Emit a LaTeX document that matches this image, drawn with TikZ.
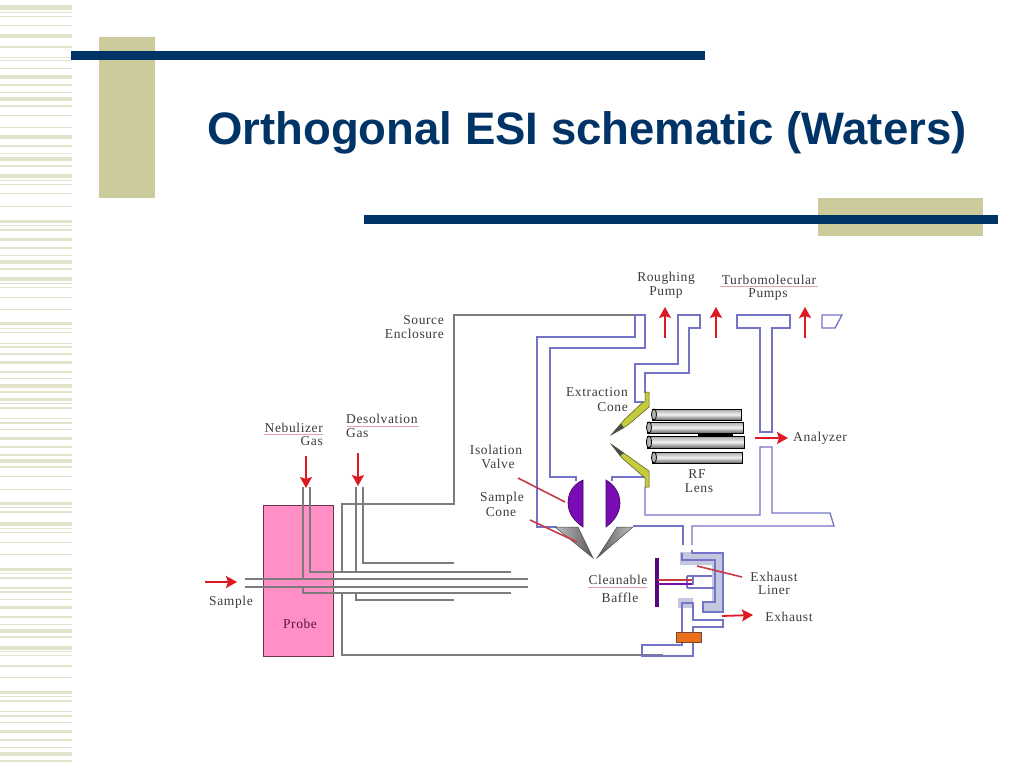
\documentclass[tikz,border=0pt]{standalone}
\usepackage{fontspec}
\setmainfont{Liberation Serif}
\newfontfamily\titlefont{Liberation Sans}
\newfontfamily\labelfont[LetterSpace=4.5]{Liberation Serif}
\usetikzlibrary{arrows.meta}
\definecolor{khaki}{HTML}{CBCB9B}
\definecolor{stripe}{HTML}{E3E3CB}
\definecolor{navy}{HTML}{003366}
\definecolor{pipeblue}{HTML}{7474C8}
\definecolor{pipegray}{HTML}{7C7C7C}
\definecolor{arrowred}{HTML}{DD1A22}
\definecolor{leader}{HTML}{C83A4A}
\definecolor{liner}{HTML}{C4C8DE}
\definecolor{probepink}{HTML}{FF8FC4}
\definecolor{valvepurple}{HTML}{7A0CB4}
\definecolor{coneyellow}{HTML}{C4CC3C}
\definecolor{squiggle}{HTML}{E8A0A8}
\definecolor{labelgray}{HTML}{3C3C3C}
\tikzset{
  blue pipe/.style={draw=pipeblue,line width=1.3pt,line join=miter},
  gray pipe/.style={draw=pipegray,line width=1.7pt,line join=miter},
  flow/.style={draw=arrowred,line width=1.8pt,-{Stealth[length=11pt,width=12pt,inset=2pt]}},
  leaderline/.style={draw=leader,line width=1.6pt},
  spell/.style={draw=squiggle,line width=0.9pt},
  lab/.style={font=\labelfont\fontsize{13.5}{13.5}\selectfont,text=labelgray,inner sep=0pt,anchor=center},
  rodbody/.style={draw=black,line width=1pt,top color=black!35,bottom color=black!60,middle color=black!5},
}
\begin{document}
\begin{tikzpicture}[x=1pt,y=-1pt]
\useasboundingbox (0,0) rectangle (1024,768);
\fill[white] (0,0) rectangle (1024,768);
% left stripes
\foreach \a/\h in {5/5,12/1,16/1,25/1,34/4,46/2,57/1,60/1,68/1,75/3.5,84/2,92/1,97/4,105/2,115/1,127/1,135/3.5,145/2,153/1,157/4,165/2,
  174/4,180/1,184/1,193/1,206/1,220/3,225/1,229/2,238/3,247/2,255/1,260/4,268/2,277/3.5,283/1,287/1,297/1,309/1,322/3,328/1,332/1,343/1,346/2,353/2,361/3,
  371/1.5,378/1,384/4,391/2,398/3,403/1,407/2,418/1,422/2,429/1,437/3,446/2,454/1.5,459/4,466/2,476/1,489/1,502/3,507/1,511/2,522/4,528/1,532/1,542/1,554/1,
  568/3,573/1,577/2,587/1.5,591/1.5,599/1,606/3,616/2,624/1,629/3.5,636/2,646/3.5,651/1,655/1,665/1.5,677/1,691/3,696/1,700/2,711/1,715/2,722/1,730/3,739/1.5,747/1,752/3.5,760/1.5}{
  \fill[stripe] (0,\a) rectangle (72,\a+\h);
}
% decoration
\fill[khaki] (99,37) rectangle (155,198);
\fill[navy] (71,51) rectangle (705,60);
\fill[khaki] (818,198) rectangle (983,236);
\fill[navy] (364,215) rectangle (998,224);
\node[font=\titlefont\bfseries\fontsize{45.5}{45.5}\selectfont,text=navy,anchor=base west,inner sep=0pt] (title) at (207,144) {Orthogonal ESI schematic (Waters)};
% probe
\node[draw={rgb,255:red,112;green,48;blue,80},fill=probepink,line width=1.3pt,minimum width=70pt,minimum height=151pt,inner sep=0pt,anchor=north west] (probe) at (263,505) {};
\node[lab,text={rgb,255:red,90;green,20;blue,70}] (probelab) at (300,624) {Probe};
% source enclosure
\draw[gray pipe] (635,315) -- (454,315) -- (454,504) -- (342,504) -- (342,572);
\draw[gray pipe] (342,593) -- (342,655) -- (663,655);
% tubes
\draw[gray pipe] (245,579) -- (528,579);
\draw[gray pipe] (245,587) -- (528,587);
\draw[gray pipe] (303,487) -- (303,579);
\draw[gray pipe] (310,487) -- (310,572) -- (511,572);
\draw[gray pipe] (303,587) -- (303,593) -- (511,593);
\draw[gray pipe] (356,487) -- (356,572);
\draw[gray pipe] (363,487) -- (363,563) -- (454,563);
\draw[gray pipe] (356,593) -- (356,600) -- (454,600);
% blue source housing
\draw[blue pipe] (635,315) -- (645,315) -- (645,348) -- (550,348) -- (550,477) -- (576,477) -- (576,481);
\draw[blue pipe] (635,315) -- (635,337) -- (537,337) -- (537,527) -- (557,527);
\draw[blue pipe] (612,481) -- (612,477) -- (645,477);
\draw[blue pipe] (645,487) -- (645,515) -- (760,515) -- (760,447) -- (772,447) -- (772,513) -- (830,513) -- (834,526) -- (692,526) -- (692,545);
\draw[blue pipe] (633,526) -- (683,526) -- (683,545);
\draw[blue pipe] (760,432) -- (760,328) -- (737,328) -- (737,315) -- (790,315) -- (790,328) -- (772,328) -- (772,432) -- cycle;
\fill[white] (766,433) rectangle (773.5,446);
\draw[blue pipe] (822,315) -- (842,315) -- (835,328) -- (822,328) -- cycle;
\draw[blue pipe] (645,393) -- (645,373) -- (689,373) -- (689,328) -- (700,328) -- (700,315) -- (678,315) -- (678,364) -- (635,364) -- (635,402) -- (644,402);
% cones
\fill[coneyellow,draw=black!60!coneyellow,line width=0.5pt] (611,435) -- (625,419) -- (643,402) -- (645,402) -- (645,392) -- (649,392) -- (649,407) -- (628,425) -- cycle;
\fill[coneyellow,draw=black!60!coneyellow,line width=0.5pt] (611,444) -- (649,471) -- (649,487) -- (645,487) -- (645,478) -- (622,458) -- cycle;
\fill[black!70] (611,435) -- (621,423.5) -- (624,428) -- cycle;
\fill[black!70] (611,444) -- (624,453) -- (620,456) -- cycle;
% rods
\foreach \xa/\xb/\ya/\yb in {652/741/409/420,647/743/422/433,647/744/436/448,652/742/452/463}{
  \shade[rodbody] (\xa,\ya) rectangle (\xb,\yb);
  \draw[black,line width=0.8pt,fill=black!30] (\xa+2,{(\ya+\yb)/2}) ellipse[x radius=2.5pt,y radius={(\yb-\ya)/2*1pt}];
}
\draw[black,line width=2pt] (698,434.5) -- (733,434.5);
% valve
\fill[valvepurple,draw=black!50!valvepurple,line width=0.6pt] (583,480) .. controls (572,485) and (568,494) .. (568,503) .. controls (568,513) and (574,521) .. (583,527) -- cycle;
\fill[valvepurple,draw=black!50!valvepurple,line width=0.6pt] (606,480) .. controls (615,485) and (620,494) .. (620,503) .. controls (620,513) and (614,521) .. (606,527) -- cycle;
% sample cone
\shade[left color=black!25,right color=black!65,draw=black!70,line width=0.5pt] (555,527) -- (578,527) -- (593,558) -- cycle;
\shade[right color=black!25,left color=black!65,draw=black!70,line width=0.5pt] (633,527) -- (617,527) -- (597,558) -- cycle;
% exhaust liner
\fill[liner] (680,552) -- (723,552) -- (723,612) -- (703,612) -- (703,603) -- (712,603) -- (712,565) -- (680,565) -- cycle;
\fill[liner] (678,598) rectangle (693,608);
% exhaust pipes
\draw[blue pipe] (682,553) -- (682,560) -- (715,560) -- (715,602) -- (703,602) -- (703,612) -- (723,612) -- (723,553) -- (692,553) -- (692,550);
\draw[blue pipe] (687,576) -- (712,576);
\draw[blue pipe] (687,588) -- (715,588);
\draw[blue pipe] (687,576) -- (687,588);
\draw[blue pipe] (693,576) -- (693,584) -- (687,584);
\draw[blue pipe] (682,632) -- (682,603) -- (693,603) -- (693,620) -- (723,620) -- (723,627) -- (693,627) -- (693,632);
\draw[blue pipe] (682,642) -- (682,645) -- (642,645) -- (642,656) -- (693,656) -- (693,642);
\node[draw={rgb,255:red,120;green,70;blue,50},fill={rgb,255:red,232;green,112;blue,26},line width=0.8pt,minimum width=25pt,minimum height=10pt,inner sep=0pt] (orange) at (688.5,637) {};
% baffle
\draw[valvepurple!70!black,line width=4pt] (657,558) -- (657,607);
\draw[leader,line width=1.5pt] (658,580) -- (692,580);
\draw[valvepurple,line width=1.5pt] (658,584) -- (692,584);
% leaders
\draw[leaderline] (518,478) -- (565,502);
\draw[leaderline] (530,520) -- (577,542);
\draw[leaderline] (697,566) -- (742,577);
% arrows
\coordinate (a1) at (205,582); \coordinate (a2) at (237,582);
\draw[flow] (a1) -- (a2);
\draw[flow] (306,456) -- (306,488);
\draw[flow] (358,453) -- (358,486);
\draw[flow] (665,338) -- (665,307);
\draw[flow] (716,338) -- (716,307);
\draw[flow] (805,338) -- (805,307);
\draw[flow] (755,438) -- (788,438);
\draw[flow] (722,616) -- (753,615);
% labels
\node[lab,anchor=east] (l1) at (444,320) {Source};
\node[lab,anchor=east] (l2) at (444,333.5) {Enclosure};
\node[lab] (l3) at (666,278) {Roughing};
\node[lab] (l4) at (666,292.5) {Pump};
\node[lab] (l5) at (769,280) {Turbomolecular};
\node[lab] (l6) at (768,295) {Pumps};
\node[lab,anchor=east] (l7) at (628,392) {Extraction};
\node[lab,anchor=east] (l8) at (628,407) {Cone};
\node[lab] (l9) at (697,474) {RF};
\node[lab] (l10) at (699,488) {Lens};
\node[lab,anchor=west] (l11) at (793,438) {Analyzer};
\node[lab,anchor=east] (l12) at (323,427.5) {Nebulizer};
\node[lab,anchor=east] (l13) at (323,441.5) {Gas};
\node[lab,anchor=west] (l14) at (346,419) {Desolvation};
\node[lab,anchor=west] (l15) at (346,433) {Gas};
\node[lab] (l16) at (496,450) {Isolation};
\node[lab] (l17) at (498,463.5) {Valve};
\node[lab] (l18) at (502,498) {Sample};
\node[lab] (l19) at (501,512) {Cone};
\node[lab] (l20) at (231,602) {Sample};
\node[lab] (l21) at (618,580) {Cleanable};
\node[lab] (l22) at (620,598) {Baffle};
\node[lab] (l23) at (774,576.5) {Exhaust};
\node[lab] (l24) at (774,590.5) {Liner};
\node[lab] (l25) at (789,617) {Exhaust};
% spell-check underlines
\draw[spell] (720,286) -- (818,286);
\draw[spell] (264,434) -- (323,434);
\draw[spell] (347,426) -- (419,426);
\draw[spell] (588,587) -- (647,587);
\end{tikzpicture}
\end{document}
